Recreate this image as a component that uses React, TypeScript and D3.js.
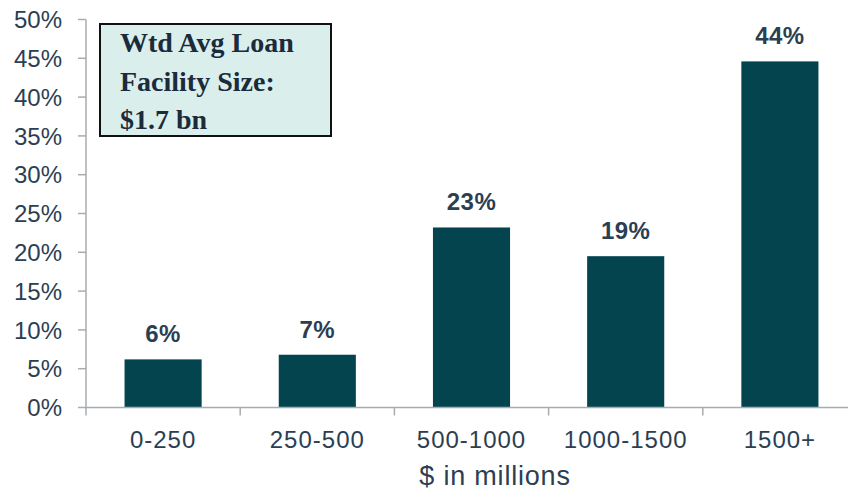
import React from "react";
import * as d3 from "d3";

const categories = ["0-250", "250-500", "500-1000", "1000-1500", "1500+"];
const values = [6.2, 6.8, 23.2, 19.5, 44.6];
const labels = ["6%", "7%", "23%", "19%", "44%"];
const yTicks = [0, 5, 10, 15, 20, 25, 30, 35, 40, 45, 50];
const boxLines = ["Wtd Avg Loan", "Facility Size:", "$1.7 bn"];
const xTitle = "$ in millions";

const W = 848;
const H = 491;
const left = 86;
const right = 857;
const y0 = 407.5;
const yTop = 19.5;

const BAR = "#03444f";
const TEXT = "#2c3e52";
const AXIS = "#a8acb0";
const SANS = "'Liberation Sans', Arial, sans-serif";
const SERIF = "'Liberation Serif', 'Times New Roman', serif";

export default function App() {
  const x = d3.scaleBand<string>().domain(categories).range([left, right]).paddingInner(0.5).paddingOuter(0.25);
  const y = d3.scaleLinear().domain([0, 50]).range([y0, yTop]);
  const step = x.step();
  const boundaries = d3.range(categories.length + 1).map((i) => left + i * step);

  return (
    <div style={{ position: "absolute", left: 0, top: 0 }}>
      <svg width={W} height={H} style={{ display: "block", background: "#fff" }}>
        {/* y axis */}
        <line x1={left} x2={left} y1={y(50)} y2={y0} stroke={AXIS} strokeWidth={1.5} />
        {yTicks.map((t) => (
          <g key={t}>
            <line x1={left - 8} x2={left} y1={y(t)} y2={y(t)} stroke={AXIS} strokeWidth={1.5} />
            <text x={62} y={y(t)} dy="0.36em" textAnchor="end" fontFamily={SANS} fontSize={24} fill={TEXT}>
              {t}%
            </text>
          </g>
        ))}
        {/* bars */}
        {categories.map((c, i) => (
          <g key={c}>
            <rect x={x(c)} y={y(values[i])} width={x.bandwidth()} height={y0 - y(values[i])} fill={BAR} />
            <text
              x={(x(c) as number) + x.bandwidth() / 2}
              y={y(values[i]) - 17}
              textAnchor="middle"
              fontFamily={SANS}
              fontSize={24}
              fontWeight={600}
              letterSpacing={0.5}
              fill={TEXT}
            >
              {labels[i]}
            </text>
            <text
              x={(x(c) as number) + x.bandwidth() / 2}
              y={448}
              textAnchor="middle"
              fontFamily={SANS}
              fontSize={24}
              letterSpacing={1}
              fill={TEXT}
            >
              {c}
            </text>
          </g>
        ))}
        {/* x axis */}
        <line x1={left} x2={W} y1={y0} y2={y0} stroke={AXIS} strokeWidth={1.5} />
        {boundaries.map((b, i) => (
          <line key={i} x1={b} x2={b} y1={y0} y2={y0 + 8} stroke={AXIS} strokeWidth={1.5} />
        ))}
        <text x={495} y={485} textAnchor="middle" fontFamily={SANS} fontSize={27} letterSpacing={0.8} fill={TEXT}>
          {xTitle}
        </text>
        {/* annotation box */}
        <rect x={100} y={24} width={231} height={112} fill="#daeeec" stroke="#111" strokeWidth={2} />
        {boxLines.map((l, i) => (
          <text key={i} x={120} y={52 + i * 38.5} fontFamily={SERIF} fontSize={28} fontWeight="bold" fill="#1b2b3c">
            {l}
          </text>
        ))}
      </svg>
    </div>
  );
}
